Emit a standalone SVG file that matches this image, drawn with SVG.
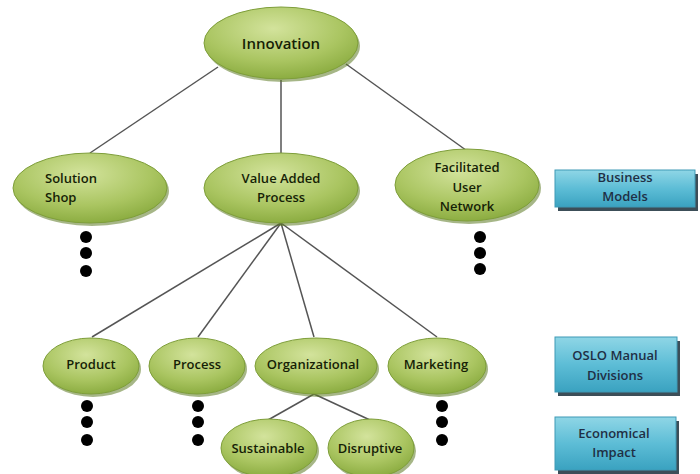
<svg xmlns="http://www.w3.org/2000/svg" width="700" height="474" viewBox="0 0 700 474">
<defs>
<radialGradient id="gEll" cx="0.45" cy="0.3" r="0.75">
<stop offset="0" stop-color="#d3e39c"/>
<stop offset="0.6" stop-color="#aac561"/>
<stop offset="1" stop-color="#86a83b"/>
</radialGradient>
<linearGradient id="gBox" x1="0" y1="0" x2="0" y2="1">
<stop offset="0" stop-color="#8fd6e6"/>
<stop offset="0.5" stop-color="#5dbdd6"/>
<stop offset="1" stop-color="#3aa2c0"/>
</linearGradient>
<style>
.ell{fill:url(#gEll);stroke:#7e9e3a;stroke-width:1}
.esh{fill:#5d7a25;opacity:0.55}
.box{fill:url(#gBox);stroke:#3f9ab6;stroke-width:1}
.bsh{fill:#3c4e58}
.t{font-family:"Open Sans","DejaVu Sans",sans-serif;font-weight:600;font-size:13px;fill:#161f06}
.big{font-size:15px}
.tb{font-family:"Open Sans","DejaVu Sans",sans-serif;font-weight:600;font-size:13px;fill:#1f2f45;text-anchor:middle}
.c{text-anchor:middle}
.ln{stroke:#555;stroke-width:1.5;fill:none}
.dot{fill:#000}
</style>
</defs>
<rect width="700" height="474" fill="#fff"/>
<g id="connectors">
<line class="ln" x1="218" y1="67" x2="90" y2="153"/>
<line class="ln" x1="281" y1="80" x2="281" y2="153"/>
<line class="ln" x1="346" y1="64" x2="470" y2="153"/>
<line class="ln" x1="281" y1="223" x2="92" y2="337"/>
<line class="ln" x1="281" y1="223" x2="198" y2="337"/>
<line class="ln" x1="281" y1="223" x2="314" y2="337"/>
<line class="ln" x1="281" y1="223" x2="437" y2="337"/>
<line class="ln" x1="314" y1="394" x2="268" y2="420"/>
<line class="ln" x1="314" y1="394" x2="370" y2="420"/>
</g>
<g id="innovation">
<ellipse class="esh" cx="283" cy="46" rx="77" ry="36"/>
<ellipse class="ell" cx="281" cy="43" rx="77" ry="36"/>
<text class="t c big" x="281" y="49">Innovation</text>
</g>
<g id="solution-shop">
<ellipse class="esh" cx="92" cy="191" rx="77" ry="35"/>
<ellipse class="ell" cx="90" cy="188" rx="77" ry="35"/>
<text class="t" x="45" y="183">Solution</text>
<text class="t" x="45" y="202">Shop</text>
</g>
<g id="value-added-process">
<ellipse class="esh" cx="283" cy="191" rx="77" ry="35"/>
<ellipse class="ell" cx="281" cy="188" rx="77" ry="35"/>
<text class="t c" x="281" y="183">Value Added</text>
<text class="t c" x="281" y="202">Process</text>
</g>
<g id="facilitated-user-network">
<ellipse class="esh" cx="469" cy="188" rx="72" ry="36"/>
<ellipse class="ell" cx="467" cy="185" rx="72" ry="36"/>
<text class="t c" x="467" y="172">Facilitated</text>
<text class="t c" x="467" y="192">User</text>
<text class="t c" x="467" y="211">Network</text>
</g>
<g id="business-models">
<rect class="bsh" x="558" y="174" width="140" height="37"/>
<rect class="box" x="555" y="170" width="140" height="37"/>
<text class="tb" x="625" y="182">Business</text>
<text class="tb" x="625" y="201">Models</text>
</g>
<g id="product">
<ellipse class="esh" cx="93" cy="369" rx="48" ry="28"/>
<ellipse class="ell" cx="91" cy="366" rx="48" ry="28"/>
<text class="t c" x="91" y="369">Product</text>
</g>
<g id="process">
<ellipse class="esh" cx="199" cy="369" rx="48" ry="28"/>
<ellipse class="ell" cx="197" cy="366" rx="48" ry="28"/>
<text class="t c" x="197" y="369">Process</text>
</g>
<g id="organizational">
<ellipse class="esh" cx="318" cy="369" rx="61" ry="28"/>
<ellipse class="ell" cx="316" cy="366" rx="61" ry="28"/>
<text class="t c" x="313" y="369">Organizational</text>
</g>
<g id="marketing">
<ellipse class="esh" cx="439" cy="369" rx="49" ry="28"/>
<ellipse class="ell" cx="437" cy="366" rx="49" ry="28"/>
<text class="t c" x="436" y="369">Marketing</text>
</g>
<g id="sustainable">
<ellipse class="esh" cx="271" cy="451" rx="48" ry="29"/>
<ellipse class="ell" cx="269" cy="448" rx="48" ry="29"/>
<text class="t c" x="268" y="453">Sustainable</text>
</g>
<g id="disruptive">
<ellipse class="esh" cx="373" cy="451" rx="43" ry="29"/>
<ellipse class="ell" cx="371" cy="448" rx="43" ry="29"/>
<text class="t c" x="370" y="453">Disruptive</text>
</g>
<g id="oslo-manual-divisions">
<rect class="bsh" x="558" y="341" width="122" height="55"/>
<rect class="box" x="555" y="337" width="122" height="55"/>
<text class="tb" x="615" y="360">OSLO Manual</text>
<text class="tb" x="615" y="380">Divisions</text>
</g>
<g id="economical-impact">
<rect class="bsh" x="558" y="421" width="121" height="53"/>
<rect class="box" x="555" y="417" width="121" height="53"/>
<text class="tb" x="614" y="438">Economical</text>
<text class="tb" x="614" y="457">Impact</text>
</g>
<g id="ellipsis-dots">
<circle class="dot" cx="86" cy="237" r="6"/>
<circle class="dot" cx="86" cy="253" r="6"/>
<circle class="dot" cx="86" cy="271" r="6"/>
<circle class="dot" cx="480" cy="237" r="6"/>
<circle class="dot" cx="480" cy="253" r="6"/>
<circle class="dot" cx="480" cy="269" r="6"/>
<circle class="dot" cx="87" cy="406" r="6"/>
<circle class="dot" cx="87" cy="422" r="6"/>
<circle class="dot" cx="87" cy="440" r="6"/>
<circle class="dot" cx="198" cy="406" r="6"/>
<circle class="dot" cx="198" cy="422" r="6"/>
<circle class="dot" cx="198" cy="440" r="6"/>
<circle class="dot" cx="442" cy="406" r="6"/>
<circle class="dot" cx="442" cy="422" r="6"/>
<circle class="dot" cx="442" cy="440" r="6"/>
</g>
</svg>
